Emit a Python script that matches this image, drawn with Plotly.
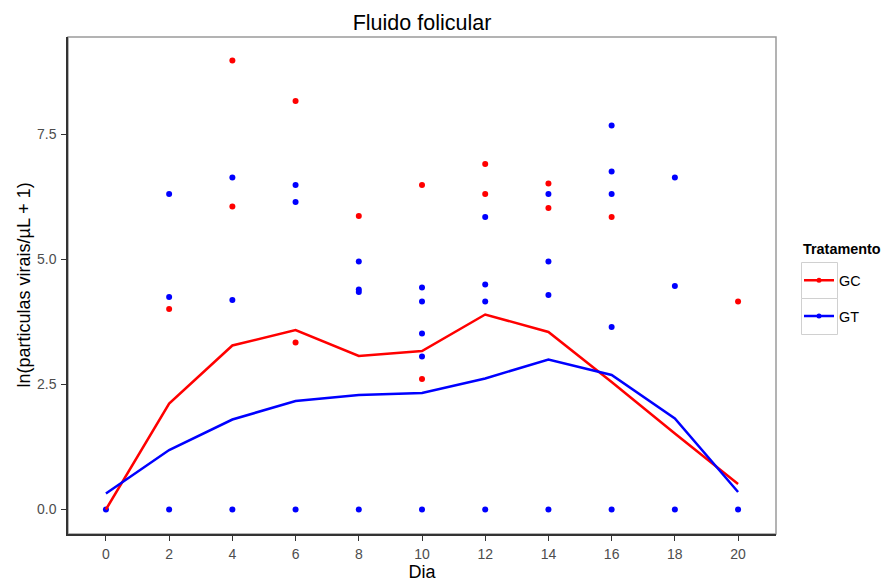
import plotly.graph_objects as go

# Days of sampling
days = [0, 2, 4, 6, 8, 10, 12, 14, 16, 18, 20]

# Individual observations, ln(viral particles/µL + 1), per group
gc_day = [2, 4, 4, 6, 6, 8, 10, 10, 12, 12, 14, 14, 16, 20]
gc_val = [4.01, 8.98, 6.06, 8.17, 3.34, 5.87, 6.49, 2.61, 6.91, 6.31, 6.52, 6.03, 5.85, 4.16]

gt_day = [0, 2, 2, 2, 4, 4, 4, 6, 6, 6, 8, 8, 8, 8, 10, 10, 10, 10, 10,
          12, 12, 12, 12, 14, 14, 14, 14, 16, 16, 16, 16, 16, 18, 18, 18, 20]
gt_val = [0.0, 6.31, 4.25, 0.0, 6.64, 4.19, 0.0, 6.49, 6.15, 0.0, 4.96, 4.40, 4.35, 0.0,
          4.44, 4.16, 3.52, 3.06, 0.0, 5.85, 4.50, 4.16, 0.0, 6.31, 4.96, 4.29, 0.0,
          7.68, 6.76, 6.31, 3.65, 0.0, 6.64, 4.47, 0.0, 0.0]

# Group trend curves
gc_trend = [0.0, 2.12, 3.28, 3.59, 3.07, 3.17, 3.90, 3.55, 2.55, 1.52, 0.51]
gt_trend = [0.32, 1.19, 1.80, 2.17, 2.29, 2.33, 2.62, 3.00, 2.69, 1.82, 0.35]

RED = "#FF0000"
BLUE = "#0000FF"
FONT = "Liberation Sans, Arial, sans-serif"

# Plot panel in pixels (left, right, top, bottom)
W, H = 886, 582
PL, PR, PT, PB = 68, 776, 37, 534


def px_x(p):
    return (p - PL) / (PR - PL)


def px_y(p):
    return (PB - p) / (PB - PT)


fig = go.Figure()

fig.add_trace(go.Scatter(x=gc_day, y=gc_val, mode="markers",
                         marker=dict(color=RED, size=6), showlegend=False))
fig.add_trace(go.Scatter(x=gt_day, y=gt_val, mode="markers",
                         marker=dict(color=BLUE, size=6), showlegend=False))
fig.add_trace(go.Scatter(x=days, y=gc_trend, mode="lines",
                         line=dict(color=RED, width=2.5), showlegend=False))
fig.add_trace(go.Scatter(x=days, y=gt_trend, mode="lines",
                         line=dict(color=BLUE, width=2.5), showlegend=False))

# Legend entries (line with point), one group each so they can be spaced
fig.add_trace(go.Scatter(x=[None], y=[None], mode="lines+markers", name="GC",
                         legendgroup="gc",
                         line=dict(color=RED, width=2.5), marker=dict(color=RED, size=5)))
fig.add_trace(go.Scatter(x=[None], y=[None], mode="lines+markers", name="GT",
                         legendgroup="gt",
                         line=dict(color=BLUE, width=2.5), marker=dict(color=BLUE, size=5)))

# Key boxes around the legend glyphs
key_edges = [262.5, 298.5, 334.5]
shapes = [dict(type="rect", xref="paper", yref="paper", x0=0, x1=1, y0=0, y1=1,
               line=dict(color="#9a9a9a", width=1.5), layer="below")]
for top, bottom in zip(key_edges[:-1], key_edges[1:]):
    shapes.append(dict(type="rect", xref="paper", yref="paper",
                       x0=px_x(801.5), x1=px_x(837.5), y0=px_y(bottom), y1=px_y(top),
                       line=dict(color="#d0d0d0", width=1), fillcolor="white", layer="below"))

fig.update_layout(
    width=W, height=H,
    margin=dict(l=PL, r=W - PR, t=PT, b=H - PB, autoexpand=False),
    paper_bgcolor="white", plot_bgcolor="white",
    font=dict(family=FONT, color="#000000"),
    title=dict(text="Fluido folicular", x=(PL + PR) / 2 / W, xanchor="center",
               y=1 - 22 / H, yanchor="middle",
               font=dict(size=21.5, color="#000000")),
    legend=dict(font=dict(size=14.4), x=px_x(799), xanchor="left",
                y=px_y(264.5), yanchor="top",
                itemwidth=30, tracegroupgap=14, bgcolor="rgba(0,0,0,0)"),
    annotations=[
        dict(text="<b>Tratamento</b>", xref="paper", yref="paper",
             x=px_x(801), y=px_y(249), xanchor="left", yanchor="middle",
             showarrow=False, font=dict(size=14.4, color="#000000")),
        # y-axis title
        dict(text="ln(particulas virais/µL + 1)", xref="paper", yref="paper",
             x=px_x(23), y=0.5, xanchor="center", yanchor="middle", textangle=-90,
             showarrow=False, font=dict(size=18, color="#000000")),
    ],
    shapes=shapes,
)

fig.update_xaxes(
    range=[-1.2, 21.2], tickmode="array", tickvals=days, ticktext=[str(d) for d in days],
    showgrid=False, zeroline=False, showline=True, linecolor="#333333", linewidth=1.5,
    ticks="outside", ticklen=5, tickcolor="#333333", tickwidth=1.2,
    tickfont=dict(size=14, color="#4d4d4d"), automargin=False, ticklabelstandoff=1,
    title=dict(text="Dia", font=dict(size=18)),
)
fig.update_yaxes(
    range=[-0.49, 9.45], tickmode="array", tickvals=[0, 2.5, 5, 7.5],
    ticktext=["0.0", "2.5", "5.0", "7.5"],
    showgrid=False, zeroline=False, showline=True, linecolor="#333333", linewidth=1.5,
    ticks="outside", ticklen=5, tickcolor="#333333", tickwidth=1.2,
    tickfont=dict(size=14, color="#4d4d4d"), automargin=False, ticklabelstandoff=2,
)

fig.write_html("out.html")
